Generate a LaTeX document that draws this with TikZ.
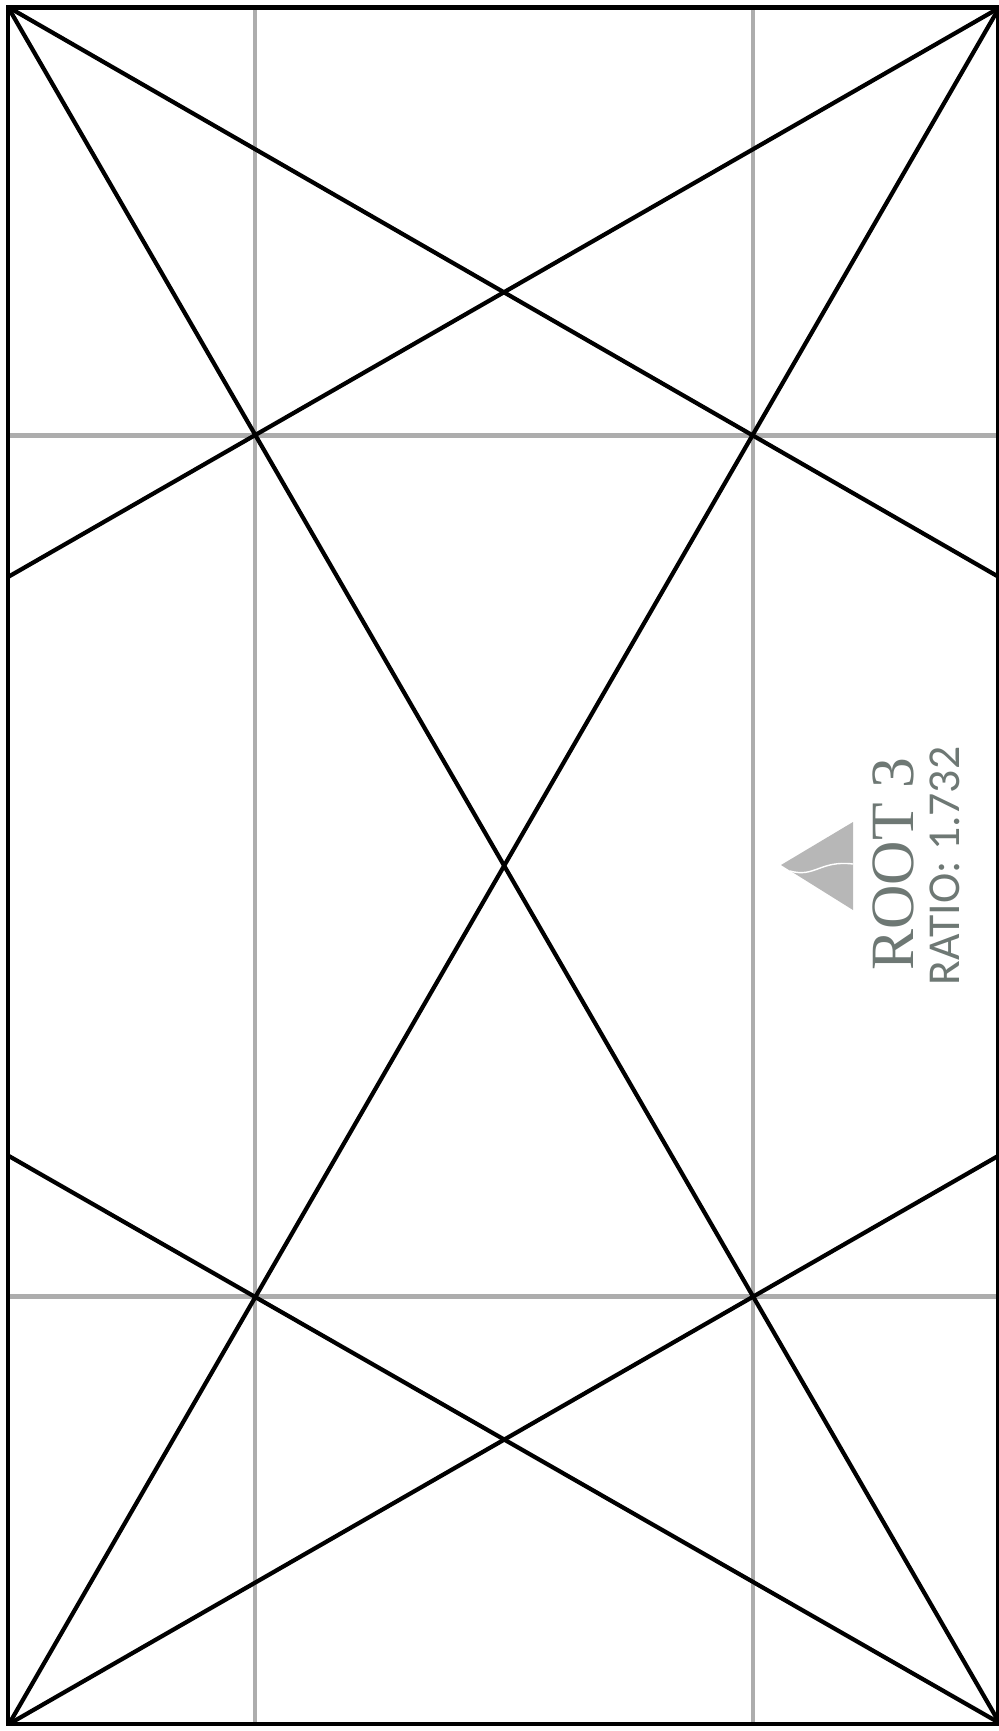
\documentclass[tikz,border=0pt]{standalone}
\usepackage{fontspec}
\usepackage{xcolor}
\setmainfont{Liberation Serif}
\setsansfont{Carlito}
\definecolor{labelgray}{HTML}{6E7874}
\definecolor{logogray}{HTML}{B7B7B7}
\begin{document}
\begin{tikzpicture}[x=0.02cm,y=-0.02cm,line cap=butt,
  frameline/.style={black,line width=2.6pt},
  gridline/.style={black!32,line width=2.3pt},
  diagline/.style={black,line width=2.4pt}]
\useasboundingbox (0,0) rectangle (999,1731);
% frame corners
\coordinate (tl) at (8,7.5);
\coordinate (br) at (998,1724);
% diagonal ends
\coordinate (dtl) at (8,7);
\coordinate (dtr) at (999,8);
\coordinate (dbl) at (9,1724);
\coordinate (dbr) at (999.5,1723);
\coordinate (lu) at (8,577);
\coordinate (ru) at (998,576.5);
\coordinate (ld) at (8,1155.5);
\coordinate (rd) at (998,1156);
% grid line ends
\coordinate (gxat) at (255,7);
\coordinate (gxab) at (255,1724);
\coordinate (gxbt) at (753,7);
\coordinate (gxbb) at (753,1724);
\coordinate (gyal) at (8,435.5);
\coordinate (gyar) at (998,435.5);
\coordinate (gybl) at (8,1296.5);
\coordinate (gybr) at (998,1296.5);
\draw[gridline] (gxat) -- (gxab);
\draw[gridline] (gxbt) -- (gxbb);
\draw[gridline] (gyal) -- (gyar);
\draw[gridline] (gybl) -- (gybr);
% diagonals
\draw[diagline] (dtl) -- (dbr);
\draw[diagline] (dtr) -- (dbl);
\draw[diagline] (dtl) -- (ru);
\draw[diagline] (dtr) -- (lu);
\draw[diagline] (dbl) -- (rd);
\draw[diagline] (dbr) -- (ld);
\draw[frameline] (tl) rectangle (br);
% logo
\fill[logogray] (781,865) -- (853,822) -- (853,910) -- cycle;
\draw[white,line width=0.8pt] (790,871) .. controls (815,878) and (820,860) .. (853,864);
% labels
\node[rotate=90,text=labelgray,inner sep=0pt,font=\fontsize{35}{35}\selectfont] (rootlabel) at (893,864) {ROOT 3};
\node[rotate=90,text=labelgray,inner sep=0pt,font=\sffamily\fontsize{26}{26}\selectfont] (ratiolabel) at (945,866) {RATIO: 1.732};
\end{tikzpicture}
\end{document}
